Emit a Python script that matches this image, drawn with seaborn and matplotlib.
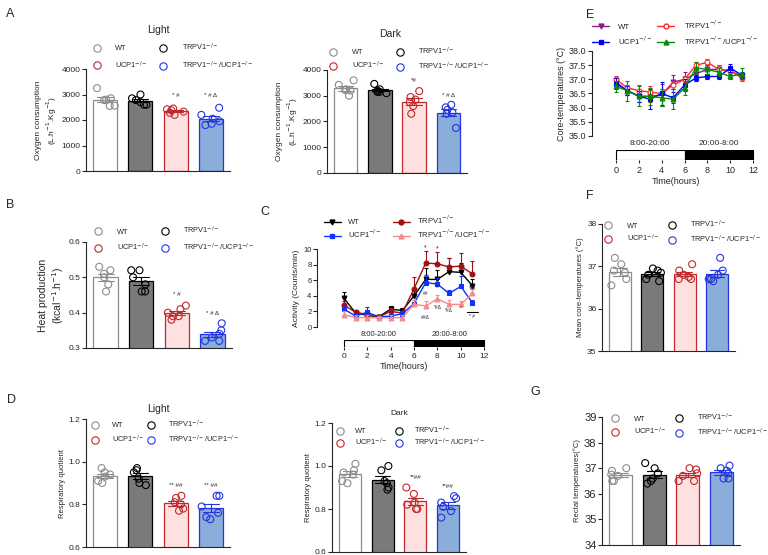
import numpy as np
import pandas as pd
import matplotlib.pyplot as plt
import seaborn as sns
from matplotlib.lines import Line2D

sns.set_style("ticks")
plt.rcParams['font.family'] = ['Liberation Sans', 'DejaVu Sans']
plt.rcParams['axes.linewidth'] = 0.8
np.random.seed(7)  # only for the horizontal jitter of the dots

# ---- data ----
groups = ['WT', 'TRPV1', 'UCP1', 'DKO']
labels = {'WT': 'WT', 'UCP1': 'UCP1$^{-/-}$', 'TRPV1': 'TRPV1$^{-/-}$',
          'DKO': 'TRPV1$^{-/-}$/UCP1$^{-/-}$'}

o2_light = [[3250, 2850, 2780, 2550, 2560, 2800],
            [3000, 2850, 2780, 2700, 2600, 2600],
            [2450, 2420, 2380, 2330, 2280, 2200],
            [2480, 2200, 2050, 1950, 1800, 1850]]
o2_dark = [[3600, 3420, 3250, 3200, 3000, 3220],
           [3460, 3250, 3200, 3150, 3150, 3100],
           [3180, 2950, 2850, 2750, 2600, 2300],
           [2650, 2550, 2450, 2350, 2300, 1750]]
heat = [[0.53, 0.52, 0.51, 0.50, 0.48, 0.46],
        [0.52, 0.52, 0.50, 0.48, 0.46, 0.46],
        [0.42, 0.41, 0.40, 0.39, 0.39, 0.38],
        [0.37, 0.35, 0.34, 0.33, 0.32, 0.32]]
rq_light = [[0.97, 0.95, 0.94, 0.93, 0.91, 0.90],
            [0.97, 0.96, 0.95, 0.92, 0.90, 0.89],
            [0.84, 0.83, 0.81, 0.80, 0.78, 0.77],
            [0.84, 0.84, 0.79, 0.76, 0.74, 0.73]]
rq_dark = [[1.01, 0.98, 0.97, 0.96, 0.93, 0.92],
           [1.00, 0.98, 0.93, 0.92, 0.90, 0.89],
           [0.90, 0.87, 0.83, 0.82, 0.80, 0.80],
           [0.86, 0.85, 0.83, 0.81, 0.79, 0.76]]
mean_core = [[37.2, 37.05, 36.9, 36.85, 36.7, 36.55],
             [36.95, 36.9, 36.85, 36.8, 36.7, 36.65],
             [37.05, 36.9, 36.8, 36.75, 36.7, 36.7],
             [37.2, 36.9, 36.8, 36.7, 36.7, 36.65]]
rectal = [[37.0, 36.9, 36.75, 36.7, 36.5, 36.5],
          [37.2, 37.0, 36.8, 36.6, 36.4, 36.5],
          [37.0, 36.95, 36.8, 36.7, 36.5, 36.5],
          [37.1, 37.0, 36.9, 36.8, 36.6, 36.6]]

hours = np.arange(12)
act_mean = {'WT':    [3.7, 1.8, 1.5, 1.3, 2.3, 2.1, 4.0, 6.1, 6.1, 7.1, 7.0, 5.3],
            'TRPV1': [2.8, 1.9, 1.6, 1.3, 2.0, 1.8, 4.9, 8.2, 8.1, 7.7, 7.8, 6.8],
            'UCP1':  [2.3, 1.4, 1.9, 1.3, 1.4, 1.7, 3.0, 5.7, 5.5, 4.3, 5.2, 3.1],
            'DKO':   [1.6, 1.2, 1.2, 1.2, 1.2, 1.2, 2.9, 2.7, 3.6, 2.9, 2.9, 4.3]}
act_err = {'WT':    [0.8, 0.2, 0.3, 0.1, 0.4, 0.4, 0.8, 1.5, 1.2, 1.7, 1.2, 0.8],
           'TRPV1': [0.5, 0.2, 0.3, 0.2, 0.4, 0.3, 1.5, 1.5, 1.5, 1.2, 1.7, 1.6],
           'UCP1':  [0.5, 0.3, 0.7, 0.2, 0.3, 0.3, 0.5, 1.0, 0.8, 0.5, 1.4, 0.4],
           'DKO':   [0.4, 0.3, 0.3, 0.2, 0.3, 0.3, 0.5, 0.6, 0.5, 0.5, 0.4, 0.6]}
core_mean = {'WT':    [36.9, 36.6, 36.4, 36.4, 36.45, 36.9, 37.0, 37.2, 37.35, 37.35, 37.3, 37.1],
             'TRPV1': [37.0, 36.7, 36.6, 36.55, 36.5, 36.8, 37.0, 37.5, 37.6, 37.35, 37.3, 37.05],
             'UCP1':  [36.85, 36.6, 36.4, 36.3, 36.5, 36.35, 36.8, 37.05, 37.1, 37.1, 37.4, 37.15],
             'DKO':   [36.75, 36.6, 36.4, 36.4, 36.35, 36.3, 36.7, 37.4, 37.35, 37.25, 37.1, 37.2]}
core_err = {'WT':    [0.1, 0.15, 0.2, 0.2, 0.4, 0.25, 0.25, 0.2, 0.15, 0.15, 0.15, 0.1],
            'TRPV1': [0.1, 0.1, 0.2, 0.2, 0.15, 0.15, 0.1, 0.1, 0.1, 0.15, 0.1, 0.1],
            'UCP1':  [0.2, 0.15, 0.2, 0.35, 0.4, 0.2, 0.2, 0.1, 0.1, 0.1, 0.15, 0.1],
            'DKO':   [0.2, 0.35, 0.35, 0.3, 0.3, 0.35, 0.25, 0.2, 0.15, 0.15, 0.1, 0.2]}

# ---- styles ----
bar_fill = {'WT': 'white', 'TRPV1': '#7a7a7a', 'UCP1': '#fde0e0', 'DKO': '#8badd9'}
bar_edge = {'WT': '#8c8c8c', 'TRPV1': 'black', 'UCP1': '#c0282c', 'DKO': '#2535e0'}
dot_col = {'WT': '#8c8c8c', 'TRPV1': 'black', 'UCP1': '#c0282c', 'DKO': '#2535e0'}
act_col = {'WT': 'black', 'TRPV1': '#a01010', 'UCP1': '#1030ff', 'DKO': '#f58a8a'}
act_mk = {'WT': 'v', 'TRPV1': 'o', 'UCP1': 's', 'DKO': '^'}
core_col = {'WT': '#8b1a8b', 'TRPV1': '#ff2a2a', 'UCP1': '#0000ff', 'DKO': '#0a8a0a'}

W, H = 768, 555


def px_axes(fig, x0, x1, ytop, ybot):
    return fig.add_axes([x0 / W, 1 - ybot / H, (x1 - x0) / W, (ybot - ytop) / H])


def bar_panel(ax, values, ylim, yticks, ylabel, tick_fs=6, lab_fs=6, labelpad=2):
    df = pd.DataFrame({'group': np.repeat(groups, [len(v) for v in values]),
                       'value': np.concatenate(values)})
    df['group'] = pd.Categorical(df['group'], categories=groups)
    sns.barplot(data=df, x='group', y='value', hue='group', palette=bar_fill,
                saturation=1, errorbar='se', capsize=0.45, width=0.68,
                err_kws={'linewidth': 0.8}, legend=False, ax=ax)
    for p, g in zip(ax.patches, groups):
        p.set_edgecolor(bar_edge[g])
        p.set_linewidth(0.9)
    for l, g in zip(ax.lines, groups):
        l.set_color(bar_edge[g])
    sns.stripplot(data=df, x='group', y='value', hue='group', palette=dot_col,
                  jitter=0.28, size=5.0, legend=False, ax=ax)
    for coll in ax.collections:
        fc = coll.get_facecolor()
        coll.set_facecolor('none')
        coll.set_edgecolor(fc)
        coll.set_linewidth(0.8)
    ax.set_xlim(-0.55, 3.55)
    ax.set_ylim(ylim)
    ax.set_yticks(yticks)
    ax.set_xticks([])
    ax.set_xlabel('')
    ax.set_ylabel(ylabel, fontsize=lab_fs, labelpad=labelpad)
    ax.tick_params(axis='y', length=3, width=0.8, labelsize=tick_fs, pad=1)
    sns.despine(ax=ax)


def group_legend(ax, x, y, fs=5.3, colsp=1.6, ls=0.5, tp=2.0):
    hs = [Line2D([], [], ls='', marker='o', mfc='none', mec=dot_col[g], mew=0.8,
                 ms=5.3, label=labels[g]) for g in ['WT', 'UCP1', 'TRPV1', 'DKO']]
    ax.legend(handles=hs, ncol=2, loc='upper left', bbox_to_anchor=(x, y),
              frameon=False, fontsize=fs, handletextpad=tp, columnspacing=colsp,
              labelspacing=ls, borderaxespad=0, borderpad=0, handlelength=1)


def stars(ax, xs, ys, txt, fs=5):
    for x, y, t in zip(xs, ys, txt):
        ax.text(x, y, t, ha='center', va='bottom', fontsize=fs)


def timeline(fig, x0, x1, ytop, ybot, xlim, fs=6, lab_fs=6.5):
    tl = px_axes(fig, x0, x1, ytop, ybot)
    tl.axvspan(0, 6, facecolor='white', edgecolor='black', lw=0.8)
    tl.axvspan(6, 12, facecolor='black', edgecolor='black', lw=0.8)
    tl.set_xlim(xlim)
    tl.set_ylim(0, 1)
    tl.set_yticks([])
    for s in tl.spines.values():
        s.set_visible(False)
    tl.set_xticks(range(0, 13, 2))
    tl.tick_params(axis='x', length=2.5, width=0.8, labelsize=fs, pad=1.5)
    tl.text(3, 1.25, '8:00-20:00', ha='center', va='bottom', fontsize=fs - 0.5)
    tl.text(9, 1.25, '20:00-8:00', ha='center', va='bottom', fontsize=fs - 0.5)
    tl.set_xlabel('Time(hours)', fontsize=lab_fs, labelpad=2)
    tl.patch.set_alpha(0)
    return tl


def line_panel(ax, means, errs, cols, two_sided, open_key=None):
    for g in ['WT', 'TRPV1', 'UCP1', 'DKO']:
        m = np.array(means[g])
        e = np.array(errs[g])
        yerr = [e, e] if two_sided else [np.zeros_like(e), e]
        ax.errorbar(hours, m, yerr=yerr, fmt='none', ecolor=cols[g],
                    elinewidth=0.8, capsize=1.5, capthick=0.8)
        mfc = 'white' if g == open_key else cols[g]
        sns.lineplot(x=hours, y=m, color=cols[g], marker=act_mk[g], ms=3.5,
                     mfc=mfc, mec=cols[g], mew=0.8, lw=1.0, ax=ax)
    ax.set_xticks([])
    sns.despine(ax=ax, bottom=True)


fig = plt.figure(figsize=(W / 100, H / 100), dpi=100)

# ---- A ----
axA1 = px_axes(fig, 86, 230, 69, 171)
bar_panel(axA1, o2_light, (0, 4000), range(0, 4001, 1000),
          'Oxygen consumption\n(L.h$^{-1}$.Kg$^{-1}$)', lab_fs=6)
group_legend(axA1, 0.05, 1.27, ls=0.95)
axA1.text(0.5, 1.33, 'Light', transform=axA1.transAxes, ha='center', va='bottom', fontsize=7.5)
stars(axA1, [2, 3], [2850, 2850], ['* #', '* # Δ'], fs=4.5)

axA2 = px_axes(fig, 327, 467, 70, 173)
bar_panel(axA2, o2_dark, (0, 4000), range(0, 4001, 1000),
          'Oxygen consumption\n(L.h$^{-1}$.Kg$^{-1}$)', lab_fs=6)
group_legend(axA2, 0.02, 1.24, ls=0.55)
axA2.text(0.45, 1.3, 'Dark', transform=axA2.transAxes, ha='center', va='bottom', fontsize=7.5)
stars(axA2, [2, 3], [3500, 2900], ['*#', '* # Δ'], fs=4.5)

# ---- B ----
axB = px_axes(fig, 86, 232, 242, 348)
bar_panel(axB, heat, (0.3, 0.6), [0.3, 0.4, 0.5, 0.6],
          'Heat production\n(kcal$^{-1}$.h$^{-1}$)', lab_fs=7.5)
group_legend(axB, 0.06, 1.16, ls=0.75)
stars(axB, [2, 3], [0.445, 0.39], ['* #', '* # Δ'], fs=4.5)

# ---- C ----
axC = px_axes(fig, 317, 490, 249, 327)
line_panel(axC, act_mean, act_err, act_col, two_sided=False)
axC.set_xlim(-2.3, 12.5)
axC.set_ylim(0, 10)
axC.set_yticks(range(0, 11, 2))
axC.tick_params(axis='y', length=3, width=0.8, labelsize=5.5, pad=1)
axC.set_ylabel('Activity (Counts/min)', fontsize=6, labelpad=2)
hsC = [Line2D([], [], color=act_col[g], marker=act_mk[g], ms=3.5, lw=1, label=labels[g])
       for g in ['WT', 'UCP1', 'TRPV1', 'DKO']]
axC.legend(handles=hsC, ncol=2, loc='upper left', bbox_to_anchor=(0.04, 1.45), frameon=False,
           fontsize=5.5, handlelength=2.2, handletextpad=1.0, columnspacing=1.4,
           labelspacing=0.2, borderaxespad=0, borderpad=0)
stars(axC, [7, 8], [9.7, 9.6], ['*', '*'], fs=5)
stars(axC, [7, 8, 11, 7, 8, 9, 10, 11], [4.0, 4.9, 4.6, 0.9, 2.2, 1.8, 2.2, 1.0],
      ['##', '#', '*##', '##Δ', '*#Δ', '*#Δ', '*', '* #'], fs=3.5)
axC.plot([10.5, 11.5], [1.9, 1.9], color='black', lw=0.8)
timeline(fig, 317, 490, 340, 347, (-2.3, 12.5), fs=6, lab_fs=6.5)

# ---- D ----
axD1 = px_axes(fig, 86, 230, 419, 547)
bar_panel(axD1, rq_light, (0.6, 1.2), [0.6, 0.8, 1.0, 1.2], 'Respiratory quotient', lab_fs=5.5)
group_legend(axD1, 0.04, 1.005, ls=0.6, colsp=0.3, tp=1.8)
axD1.text(0.5, 1.04, 'Light', transform=axD1.transAxes, ha='center', va='bottom', fontsize=7.5)
stars(axD1, [2, 3], [0.875, 0.875], ['** ##', '** ##'], fs=4.5)

axD2 = px_axes(fig, 332, 466, 423, 552)
bar_panel(axD2, rq_dark, (0.6, 1.2), [0.6, 0.8, 1.0, 1.2], 'Respiratory quotient', lab_fs=5.5)
group_legend(axD2, 0.03, 0.99, ls=0.2, colsp=1.0, tp=1.6)
axD2.text(0.5, 1.045, 'Dark', transform=axD2.transAxes, ha='center', va='bottom', fontsize=6)
stars(axD2, [2, 3], [0.935, 0.895], ['**##', '**##'], fs=4.5)

# ---- E ----
axE = px_axes(fig, 592, 760, 51, 136)
line_panel(axE, core_mean, core_err, core_col, two_sided=True, open_key='TRPV1')
axE.set_xlim(-2.1, 12.6)
axE.set_ylim(35, 38)
axE.set_yticks(np.arange(35, 38.01, 0.5))
axE.set_yticklabels([f'{v:.1f}' for v in np.arange(35, 38.01, 0.5)])
axE.tick_params(axis='y', length=3, width=0.8, labelsize=6.5, pad=1)
axE.set_ylabel('Core-temperatures (°C)', fontsize=6.5, labelpad=2)
hsE = [Line2D([], [], color=core_col[g], marker=act_mk[g], ms=3.5, lw=1,
              mfc='white' if g == 'TRPV1' else core_col[g], label=labels[g])
       for g in ['WT', 'UCP1', 'TRPV1', 'DKO']]
axE.legend(handles=hsE, ncol=2, loc='upper left', bbox_to_anchor=(0.0, 1.38), frameon=False,
           fontsize=5.6, handlelength=2.2, handletextpad=1.2, columnspacing=0.6,
           labelspacing=0.45, borderaxespad=0, borderpad=0)
timeline(fig, 592, 760, 150, 160, (-2.1, 12.6), fs=6.5, lab_fs=6.5)

# ---- F ----
axF = px_axes(fig, 602, 735, 224, 351)
bar_panel(axF, mean_core, (35, 38), [35, 36, 37, 38], 'Mean core-temperatures (°C)', tick_fs=6, lab_fs=5.5)
group_legend(axF, 0.02, 1.04, ls=0.45, colsp=1.2)

# ---- G ----
axG = px_axes(fig, 602, 740, 417, 545)
bar_panel(axG, rectal, (34, 39), range(34, 40), 'Rectal temperatures(°C)', tick_fs=8, lab_fs=5.5)
group_legend(axG, 0.07, 1.04, ls=0.45, colsp=1.2)

# panel letters
for t, x, y in [('A', 10, 14), ('B', 10, 205), ('C', 265, 212), ('D', 12, 400),
                ('E', 590, 15), ('F', 590, 196), ('G', 535, 392)]:
    fig.text(x / W, 1 - y / H, t, fontsize=9, ha='center', va='center')

fig.savefig('out.png', dpi=100)
